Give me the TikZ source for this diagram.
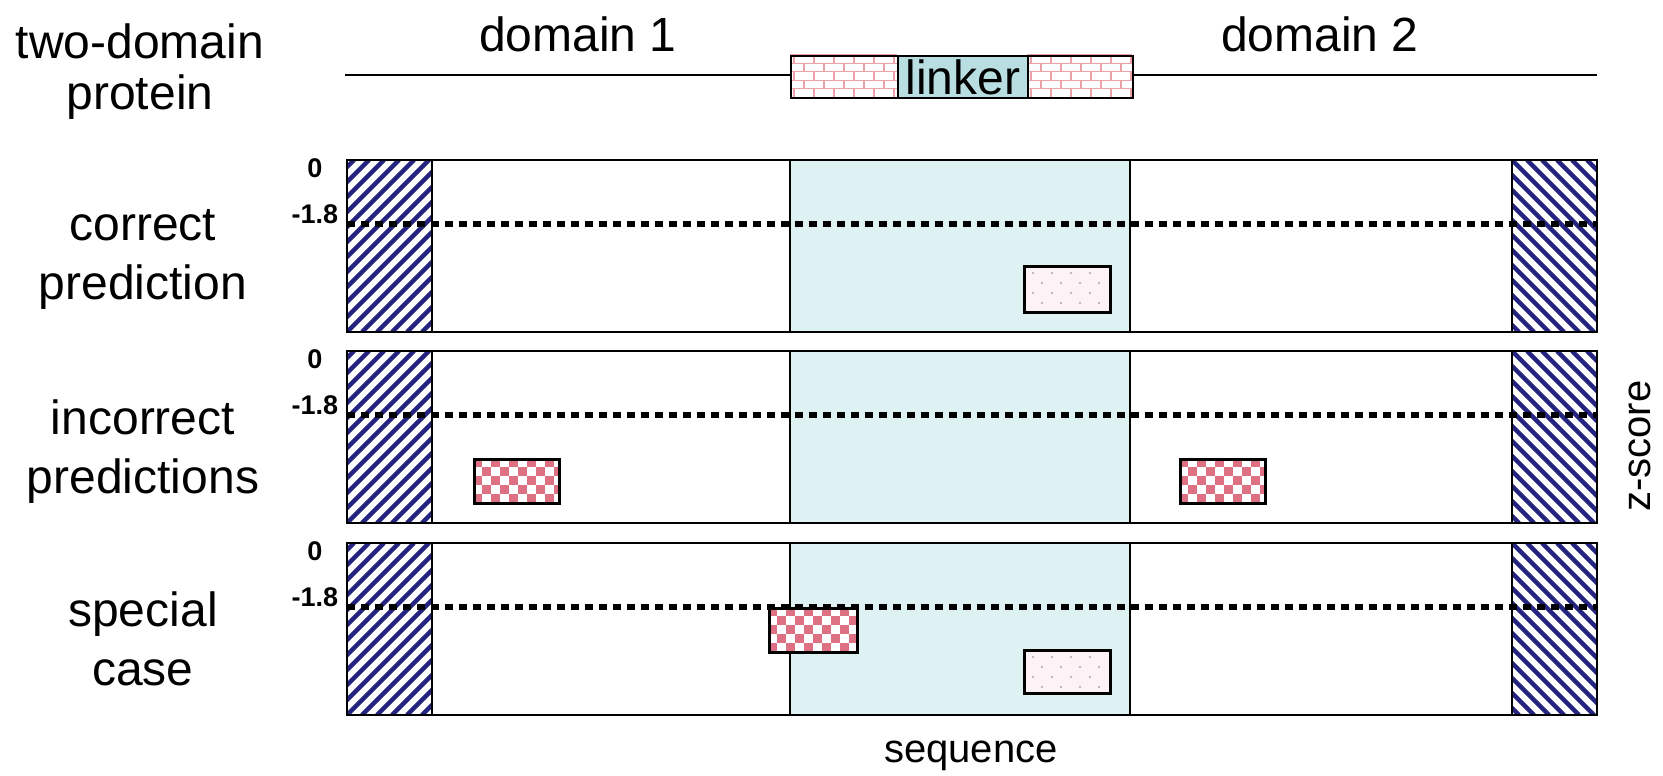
\documentclass[tikz,border=0pt]{standalone}
\usepackage{fontspec}
\setmainfont{Liberation Sans}
\usetikzlibrary{positioning}

\definecolor{hatchblue}{RGB}{36,36,128}
\definecolor{linkerbg}{RGB}{222,242,244}
\definecolor{linkerfill}{RGB}{184,222,226}
\definecolor{brickred}{RGB}{236,160,168}
\definecolor{checkred}{RGB}{222,112,132}
\definecolor{spotpink}{RGB}{253,243,246}
\definecolor{spotgrey}{RGB}{196,178,186}

\tikzset{
  rowlabel/.style={font=\fontsize{48}{59}\selectfont, align=center, inner sep=0pt},
  toplabel/.style={font=\fontsize{48}{51}\selectfont, align=center, inner sep=0pt},
  zlabel/.style={font=\fontsize{27}{30}\selectfont\bfseries, inner sep=0pt},
  axislabel/.style={font=\fontsize{40}{46}\selectfont, inner sep=0pt},
  panelline/.style={line width=2pt},
  hatchline/.style={hatchblue, line width=4.5pt},
  dotline/.style={line width=6pt, dash pattern=on 8pt off 6pt},
  brickline/.style={brickred, line width=1.2pt},
  patchbox/.style={draw, line width=2.5pt, inner sep=0pt, anchor=north west},
}

% chequered prediction box: name, x0, y0, x1, y1
\newcommand{\chequerbox}[5]{%
  \begin{scope}
    \clip (#2,#3) rectangle (#4,#5);
    \fill[white] (#2,#3) rectangle (#4,#5);
    \foreach \i in {0,...,10}
      \foreach \j in {0,...,5} {
        \pgfmathtruncatemacro{\parity}{mod(\i+\j,2)}
        \ifnum\parity=0 \fill[checkred] (#2+\i*9,#3+\j*9) rectangle ++(9,9); \fi
      }
  \end{scope}
  \pgfmathsetmacro{\boxw}{#4-#2}
  \pgfmathsetmacro{\boxh}{#5-#3}
  \node[patchbox, minimum width=\boxw pt, minimum height=\boxh pt] (#1) at (#2,#3) {};
}

% dotted prediction box: name, x0, y0, x1, y1
\newcommand{\spotbox}[5]{%
  \fill[spotpink] (#2,#3) rectangle (#4,#5);
  \foreach \i in {0,...,3}
    \foreach \j in {0,...,3}
      \fill[spotgrey] ({#2+10+\i*19+mod(\j,2)*9},{#3+8+\j*10}) circle (1.3);
  \pgfmathsetmacro{\boxw}{#4-#2}
  \pgfmathsetmacro{\boxh}{#5-#3}
  \node[patchbox, minimum width=\boxw pt, minimum height=\boxh pt] (#1) at (#2,#3) {};
}

% brick pattern: x0, y0, x1, y1
\newcommand{\brickfill}[4]{%
  \begin{scope}
    \clip (#1,#2) rectangle (#3,#4);
    \fill[white] (#1,#2) rectangle (#3,#4);
    \foreach \r in {0,...,4} {
      \draw[brickline] (#1,#2+\r*8.4) -- (#3,#2+\r*8.4);
      \pgfmathsetmacro{\brickshift}{mod(\r,2)*10}
      \foreach \c in {0,...,5}
        \draw[brickline] (#1+\brickshift+\c*20+4,#2+\r*8.4) -- ++(0,8.4);
    }
  \end{scope}}

\begin{document}
\begin{tikzpicture}[x=1pt, y=-1pt]
\useasboundingbox (0,0) rectangle (1663,776);

% protein with linker
\brickfill{790}{55}{897}{97}
\brickfill{1027}{55}{1132}{97}
\node[draw, line width=2pt, inner sep=0pt, minimum width=107pt, minimum height=42pt, anchor=north west] (brickL) at (790,55) {};
\node[draw, line width=2pt, inner sep=0pt, minimum width=105pt, minimum height=42pt, anchor=north west] (brickR) at (1027,55) {};
\node[draw, fill=linkerfill, line width=2pt, inner sep=0pt, minimum width=130pt, minimum height=42pt, font=\fontsize{48}{51}\selectfont, anchor=north west] (linker) at (897,55) {linker};
\coordinate (pstart) at (345,75);
\coordinate (pend) at (1597,75);
\draw[panelline] (pstart) -- (pstart -| brickL.west);
\draw[panelline] (pend -| brickR.east) -- (pend);

\node[toplabel, anchor=north] (protein) at (140,24) {two-domain\\protein};
\node[toplabel, anchor=base] (dom1) at (578,52) {domain 1};
\node[toplabel, anchor=base] (dom2) at (1320,52) {domain 2};

% score panels
\foreach \top/\name [count=\r] in {160/correct\\prediction, 351/incorrect\\predictions, 543/special\\case} {
  \fill[linkerbg] (790,\top) rectangle (1130,\top+172);
  \begin{scope}
    \clip (347,\top) rectangle (432,\top+172);
    \foreach \k in {-12,...,6}
      \draw[hatchline] (347+\k*15,\top+172) -- ++(172,-172);
  \end{scope}
  \begin{scope}
    \clip (1512,\top) rectangle (1597,\top+172);
    \foreach \k in {-12,...,6}
      \draw[hatchline] (1512+\k*15,\top) -- ++(172,172);
  \end{scope}
  \draw[dotline] (347,\top+64) -- (1597,\top+64);
  \draw[panelline] (347,\top) rectangle (1597,\top+172);
  \foreach \xv in {432,790,1130,1512}
    \draw[panelline] (\xv,\top) -- (\xv,\top+172);
  \node[zlabel, anchor=base] (zero\r) at (315,\top+17) {0};
  \node[zlabel, anchor=base] (cut\r) at (315,\top+63) {-1.8};
  \node[rowlabel, anchor=north] (row\r) at (143,\top+49) {\name};
}

% predicted boxes
\spotbox{hitA}{1023}{265}{1109}{311}
\chequerbox{missA}{473}{458}{558}{502}
\chequerbox{missB}{1179}{458}{1264}{502}
\chequerbox{missC}{768}{607}{856}{651}
\spotbox{hitB}{1023}{649}{1109}{692}

\node[axislabel, anchor=base] (seq) at (971,762) {sequence};
\node[axislabel, rotate=90] (zscore) at (1640,446) {z-score};
\end{tikzpicture}
\end{document}
